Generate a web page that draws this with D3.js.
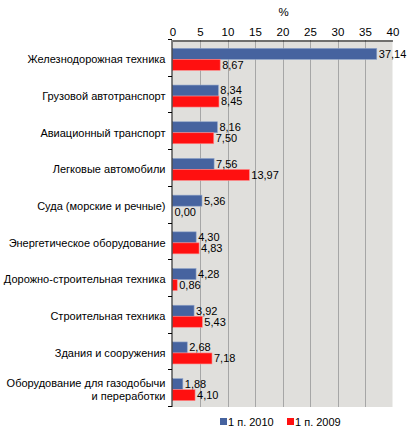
<!DOCTYPE html>
<html>
<head>
<meta charset="utf-8">
<script src="https://cdn.jsdelivr.net/npm/d3@7"></script>
<style>
  body { margin: 0; background: #fff; }
  svg { display: block; font-family: 'Liberation Sans', Arial, sans-serif; }
</style>
</head>
<body>
<div id="chart"></div>
<script>
// Категории и значения (%)
const CATEGORIES = [
  ['Железнодорожная техника'],
  ['Грузовой автотранспорт'],
  ['Авиационный транспорт'],
  ['Легковые автомобили'],
  ['Суда (морские и речные)'],
  ['Энергетическое оборудование'],
  ['Дорожно-строительная техника'],
  ['Строительная техника'],
  ['Здания и сооружения'],
  ['Оборудование для газодобычи', 'и переработки']
]
const VALUES_2010 = [37.14, 8.34, 8.16, 7.56, 5.36, 4.30, 4.28, 3.92, 2.68, 1.88]
const VALUES_2009 = [8.67, 8.45, 7.50, 13.97, 0.00, 4.83, 0.86, 5.43, 7.18, 4.10]
const SERIES_NAMES = ['1 п. 2010', '1 п. 2009']
const X_TICKS = [0, 5, 10, 15, 20, 25, 30, 35, 40]

const WIDTH = 410
const HEIGHT = 443
const MARGIN = { top: 40, bottom: 36, left: 172.5, right: 17.5 }
const BLUE = '#46639f'
const RED = '#ff1010'
const BG = '#e0dfdc'
const FONT_SIZE = '11px'

const svg = d3.select('#chart')
  .append('svg')
  .attr('width', WIDTH)
  .attr('height', HEIGHT)

const x = d3.scaleLinear()
  .domain([0, 40])
  .range([MARGIN.left, WIDTH - MARGIN.right])

const y = d3.scaleBand()
  .domain(d3.range(CATEGORIES.length))
  .range([MARGIN.top, HEIGHT - MARGIN.bottom])

const fmt = v => v.toFixed(2).replace('.', ',')

// Фон области построения
svg.append('rect')
  .attr('x', x(0))
  .attr('y', y.range()[0])
  .attr('width', x(40) - x(0))
  .attr('height', y.range()[1] - y.range()[0])
  .attr('fill', BG)

// Сетка
svg.append('g')
  .selectAll('line')
  .data(X_TICKS.slice(1, -1))
  .join('line')
  .attr('x1', d => Math.round(x(d)) + 0.5)
  .attr('x2', d => Math.round(x(d)) + 0.5)
  .attr('y1', y.range()[0])
  .attr('y2', y.range()[1])
  .attr('stroke', '#a6a6a6')

// Верхняя ось
const xAxis = svg.append('g')
  .attr('transform', `translate(0,${MARGIN.top + 0.5})`)
  .call(d3.axisTop(x).tickValues(X_TICKS).tickSize(0).tickPadding(5))
xAxis.select('.domain').attr('stroke', '#000')
xAxis.selectAll('text')
  .attr('font-family', 'Liberation Sans, Arial, sans-serif')
  .attr('font-size', '11.5px')
  .attr('fill', '#000')

svg.append('text')
  .attr('x', x(20) + 1)
  .attr('y', 16)
  .attr('text-anchor', 'middle')
  .attr('font-size', '11.5px')
  .text('%')

// Столбцы
const BAR_H = 11
const groups = svg.append('g')
  .selectAll('g')
  .data(CATEGORIES.map((c, i) => ({ i, a: VALUES_2010[i], b: VALUES_2009[i] })))
  .join('g')
  .attr('transform', d => `translate(0,${y(d.i) + y.bandwidth() / 2 + 1})`)

groups.append('rect')
  .attr('x', x(0))
  .attr('y', -BAR_H)
  .attr('width', d => x(d.a) - x(0))
  .attr('height', BAR_H)
  .attr('fill', BLUE)
  .attr('stroke', '#8ea3c8')
  .attr('stroke-width', 0.6)

groups.append('rect')
  .attr('x', x(0))
  .attr('y', 0)
  .attr('width', d => x(d.b) - x(0))
  .attr('height', BAR_H)
  .attr('fill', RED)
  .attr('stroke', '#ff8a8a')
  .attr('stroke-width', 0.6)

groups.append('text')
  .attr('x', d => x(d.a) + 2)
  .attr('y', -BAR_H / 2)
  .attr('dy', '0.35em')
  .attr('font-size', FONT_SIZE)
  .text(d => fmt(d.a))

groups.append('text')
  .attr('x', d => x(d.b) + 2)
  .attr('y', BAR_H / 2)
  .attr('dy', '0.35em')
  .attr('font-size', FONT_SIZE)
  .text(d => fmt(d.b))

// Левая ось
const yAxis = svg.append('g')
  .attr('transform', `translate(${MARGIN.left - 0.5},0)`)
yAxis.append('line')
  .attr('y1', y.range()[0])
  .attr('y2', y.range()[1])
  .attr('stroke', '#000')
yAxis.selectAll('.tk')
  .data(d3.range(CATEGORIES.length + 1))
  .join('line')
  .attr('class', 'tk')
  .attr('x1', -4)
  .attr('x2', 0)
  .attr('y1', i => Math.round(MARGIN.top + i * y.step()) - 0.5)
  .attr('y2', i => Math.round(MARGIN.top + i * y.step()) - 0.5)
  .attr('stroke', '#000')

// Подписи категорий
svg.append('g')
  .selectAll('text')
  .data(CATEGORIES)
  .join('text')
  .attr('text-anchor', 'end')
  .attr('font-size', FONT_SIZE)
  .attr('x', MARGIN.left - 7)
  .attr('y', (d, i) => y(i) + y.bandwidth() / 2 + 1 - (d.length - 1) * 6.5)
  .selectAll('tspan')
  .data(d => d)
  .join('tspan')
  .attr('x', MARGIN.left - 7)
  .attr('dy', (d, j) => j === 0 ? '0.35em' : '13px')
  .text(d => d)

// Легенда
const legend = svg.append('g')
  .attr('transform', `translate(218,${HEIGHT - 21})`)
const items = legend.selectAll('g')
  .data(SERIES_NAMES)
  .join('g')
  .attr('transform', (d, i) => `translate(${i * 67},0)`)
items.append('rect')
  .attr('x', 2)
  .attr('y', -4)
  .attr('width', 7)
  .attr('height', 7)
  .attr('fill', (d, i) => i === 0 ? BLUE : RED)
items.append('text')
  .attr('x', 10)
  .attr('y', 0)
  .attr('dy', '0.35em')
  .attr('font-size', FONT_SIZE)
  .text(d => d)
</script>
</body>
</html>
